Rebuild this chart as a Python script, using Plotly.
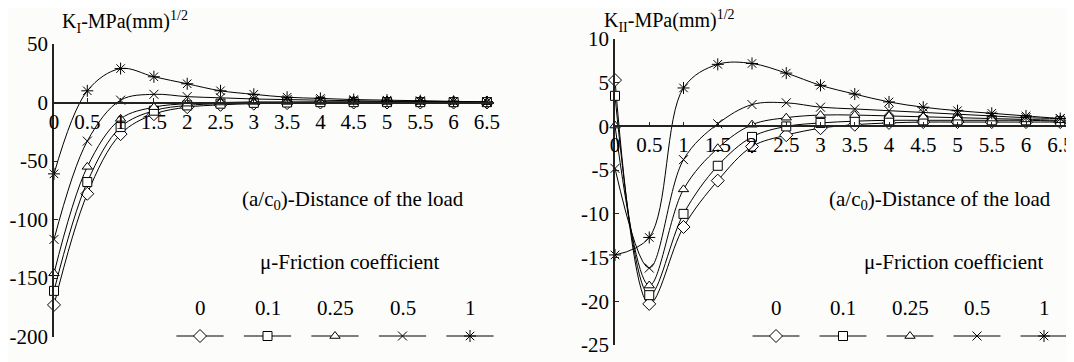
import plotly.graph_objects as go

# ---------------- data ----------------
x_vals = [0, 0.5, 1, 1.5, 2, 2.5, 3, 3.5, 4, 4.5, 5, 5.5, 6, 6.5]
x_ticks = [0, 0.5, 1, 1.5, 2, 2.5, 3, 3.5, 4, 4.5, 5, 5.5, 6, 6.5]
x_ticktext = ["0", "0.5", "1", "1.5", "2", "2.5", "3", "3.5", "4", "4.5", "5", "5.5", "6", "6.5"]
mu_labels = ["0", "0.1", "0.25", "0.5", "1"]

# K_I  (left panel)
KI_mu0   = [-173, -78, -27, -10, -4, -2, -1, -0.5, 0, 0, 0, 0, 0, 0]
KI_mu01  = [-161, -68, -21, -7, -2.5, -1, -0.3, 0, 0.3, 0.3, 0.3, 0.3, 0.3, 0.3]
KI_mu025 = [-146, -55, -14, -4, -1, 0, 0.5, 0.5, 0.5, 0.5, 0.5, 0.5, 0.5, 0.3]
KI_mu05  = [-117, -33, 2, 7, 5, 4, 3, 2.5, 2, 1.5, 1, 1, 0.8, 0.5]
KI_mu1   = [-61, 10, 29, 22, 16, 10, 7, 4.5, 3.5, 2.5, 2, 1.5, 1, 0.5]
KI_ticks = [-200, -150, -100, -50, 0, 50]

# K_II (right panel)
KII_mu0   = [5.3, -20.3, -11.5, -6.2, -2.3, -1, -0.2, 0.2, 0.4, 0.5, 0.5, 0.5, 0.5, 0.5]
KII_mu01  = [3.5, -19.3, -10, -4.5, -1.2, 0, 0.4, 0.6, 0.7, 0.7, 0.7, 0.7, 0.7, 0.6]
KII_mu025 = [0.1, -18.2, -7.2, -2.5, 0.2, 1.0, 1.3, 1.3, 1.2, 1.1, 1.0, 0.9, 0.8, 0.7]
KII_mu05  = [-4.8, -16.2, -3.8, 0.3, 2.5, 2.7, 2.2, 2.0, 1.8, 1.6, 1.4, 1.2, 1.0, 0.9]
KII_mu1   = [-14.7, -12.7, 4.4, 7.1, 7.2, 6.1, 4.7, 3.7, 2.8, 2.2, 1.8, 1.5, 1.2, 0.9]
KII_ticks = [-25, -20, -15, -10, -5, 0, 5, 10]

# ---------------- styling ----------------
PAGE_MARGIN = 8                 # default body margin of the html page
W, H = 1074 - PAGE_MARGIN, 362 - PAGE_MARGIN
FONT = "Liberation Serif"
FS = 21
FS_TITLE = 20
symbols = ["diamond", "square", "triangle-up", "x-thin-open", "asterisk-open"]
m_fill = ["white", "white", "white", "black", "black"]
msizes = [10, 9, 9, 9, 10]


def px(xs):
    """screen x (pixels) -> paper fraction"""
    return min(max((xs - PAGE_MARGIN) / W, 0), 1)


def py(ys):
    """screen y (pixels) -> paper fraction"""
    return min(max(1 - (ys - PAGE_MARGIN) / H, 0), 1)


# panel geometry (screen pixels)
L_x0, L_x1 = 54, 54 + 6.6 * 66.6
L_ytop, L_ybot = 44, 336.5
L_yr = [-200, 50]
R_x0, R_x1 = 615, 615 + 6.6 * 68.5
R_ytop, R_ybot = 39, 345
R_yr = [-25, 10]

# legend boxes (screen pixels): centre of first item and spacing
LEG = [dict(first=200, step=67.5), dict(first=776, step=67)]
LEG_ytop, LEG_ybot = 280, 360
LEG_PAD = 0.4

fig = go.Figure()

left_series = [KI_mu0, KI_mu01, KI_mu025, KI_mu05, KI_mu1]
right_series = [KII_mu0, KII_mu01, KII_mu025, KII_mu05, KII_mu1]


def add_panel(series, xa, ya):
    for i, ys in enumerate(series):
        fig.add_trace(go.Scatter(
            x=x_vals, y=ys, mode="lines+markers", name=mu_labels[i],
            line=dict(color="black", width=1, shape="spline", smoothing=1),
            marker=dict(symbol=symbols[i], size=msizes[i], color=m_fill[i],
                        line=dict(color="black", width=1)),
            cliponaxis=False, xaxis=xa, yaxis=ya))


add_panel(left_series, "x", "y")
add_panel(right_series, "x2", "y2")

# legend samples on auxiliary axes (x3/y3 left, x4/y4 right)
for xa, ya in (("x3", "y3"), ("x4", "y4")):
    for i, lab in enumerate(mu_labels):
        fig.add_trace(go.Scatter(
            x=[i - 0.35, i + 0.35], y=[0, 0], mode="lines", name=lab,
            line=dict(color="black", width=1),
            cliponaxis=False, xaxis=xa, yaxis=ya, hoverinfo="skip"))
        fig.add_trace(go.Scatter(
            x=[i], y=[0], mode="markers", name=lab,
            marker=dict(symbol=symbols[i], size=msizes[i], color=m_fill[i],
                        line=dict(color="black", width=1)),
            cliponaxis=False, xaxis=xa, yaxis=ya, hoverinfo="skip"))


def zero_pos(ytop, ybot, yr):
    d0, d1 = py(ybot), py(ytop)
    return d0 + (0 - yr[0]) / (yr[1] - yr[0]) * (d1 - d0)


axis_common = dict(showgrid=False, zeroline=False, showline=True, linecolor="#222222",
                   linewidth=1.6, ticks="inside", ticklen=4, tickcolor="#222222",
                   automargin=False,
                   tickfont=dict(family=FONT, size=FS, color="black"))
hidden = dict(visible=False, showgrid=False, zeroline=False, fixedrange=True, automargin=False)


def leg_domain(leg):
    return [px(leg["first"] - LEG_PAD * leg["step"]), px(leg["first"] + (4 + LEG_PAD) * leg["step"])]


# legend y axes: y=0 -> symbol row (336 px), y=1 -> label row (308 px)
def leg_yrange():
    per = 336 - 308
    lo = -(LEG_ybot - 336) / per
    hi = (336 - LEG_ytop) / per
    return [lo, hi]


fig.update_layout(
    width=W, height=H,
    margin=dict(l=0, r=0, t=0, b=0, pad=0, autoexpand=False),
    paper_bgcolor="#fcfcfa", plot_bgcolor="rgba(0,0,0,0)",
    font=dict(family=FONT, size=FS, color="black"),
    showlegend=False,
    xaxis=dict(domain=[px(L_x0), px(L_x1)], range=[0, 6.6], anchor="free",
               position=zero_pos(L_ytop, L_ybot, L_yr),
               tickvals=x_ticks, ticktext=x_ticktext, **axis_common),
    yaxis=dict(domain=[py(L_ybot), py(L_ytop)], range=L_yr, anchor="x",
               tickvals=KI_ticks, ticktext=[str(v) for v in KI_ticks], **axis_common),
    xaxis2=dict(domain=[px(R_x0), px(R_x1)], range=[0, 6.6], anchor="free",
                position=zero_pos(R_ytop, R_ybot, R_yr),
                tickvals=x_ticks, ticktext=x_ticktext, **axis_common),
    yaxis2=dict(domain=[py(R_ybot), py(R_ytop)], range=R_yr, anchor="x2",
                tickvals=KII_ticks, ticktext=[str(v) for v in KII_ticks], **axis_common),
    xaxis3=dict(domain=leg_domain(LEG[0]), range=[-LEG_PAD, 4 + LEG_PAD], anchor="y3", **hidden),
    yaxis3=dict(domain=[py(LEG_ybot), py(LEG_ytop)], range=leg_yrange(), anchor="x3", **hidden),
    xaxis4=dict(domain=leg_domain(LEG[1]), range=[-LEG_PAD, 4 + LEG_PAD], anchor="y4", **hidden),
    yaxis4=dict(domain=[py(LEG_ybot), py(LEG_ytop)], range=leg_yrange(), anchor="x4", **hidden),
)

ann = []
# axis titles
ann.append(dict(text="K<sub>I</sub>-MPa(mm)<sup>1/2</sup>", x=px(60), y=py(22), xanchor="left",
                yanchor="middle", xref="paper", yref="paper", size=FS_TITLE))
ann.append(dict(text="K<sub>II</sub>-MPa(mm)<sup>1/2</sup>", x=px(602), y=py(21), xanchor="left",
                yanchor="middle", xref="paper", yref="paper", size=FS_TITLE))
# x titles
for cx in (353, 940):
    ann.append(dict(text="(a/c<sub>0</sub>)-Distance of the load", x=px(cx), y=py(200),
                    xanchor="center", yanchor="middle", xref="paper", yref="paper", size=FS))
# legend titles
for cx in (350, 954):
    ann.append(dict(text="\u03bc-Friction coefficient", x=px(cx), y=py(262),
                    xanchor="center", yanchor="middle", xref="paper", yref="paper", size=FS))
# legend labels (on legend axes)
for xa, ya in (("x3", "y3"), ("x4", "y4")):
    for i, lab in enumerate(mu_labels):
        ann.append(dict(text=lab, x=i, y=1, xref=xa, yref=ya, xanchor="center", yanchor="middle",
                        size=FS))

final_ann = []
for a in ann:
    size = a.pop("size")
    a.update(showarrow=False, font=dict(family=FONT, size=size, color="black"))
    final_ann.append(a)
fig.update_layout(annotations=final_ann)

fig.write_html("out.html")
